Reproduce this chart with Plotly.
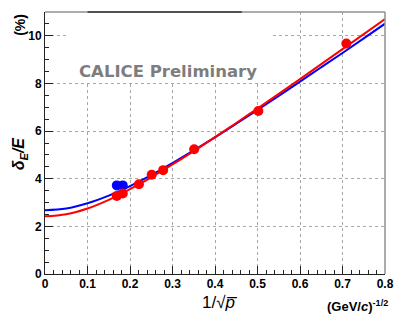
import plotly.graph_objects as go

# measured points (red = full set, blue = second set, only visible at low 1/sqrt(p))
red_x = [0.169, 0.183, 0.221, 0.251, 0.278, 0.351, 0.502, 0.709]
red_y = [3.28, 3.38, 3.77, 4.17, 4.36, 5.24, 6.84, 9.68]
blue_x = [0.169, 0.183]
blue_y = [3.72, 3.72]

# fit curves
fit_x = [0, 0.05, 0.1, 0.15, 0.2, 0.25, 0.3, 0.35, 0.4, 0.45, 0.5, 0.55, 0.6, 0.65, 0.7, 0.75, 0.8]
red_fit = [2.42, 2.51, 2.75, 3.11, 3.56, 4.06, 4.60, 5.16, 5.75, 6.34, 6.95, 7.56, 8.18, 8.81, 9.44, 10.07, 10.70]
blue_fit = [2.68, 2.75, 2.97, 3.29, 3.69, 4.15, 4.66, 5.19, 5.74, 6.31, 6.89, 7.48, 8.08, 8.68, 9.28, 9.89, 10.51]

x_ticks = [0, 0.1, 0.2, 0.3, 0.4, 0.5, 0.6, 0.7, 0.8]
x_ticklabels = ["0", "0.1", "0.2", "0.3", "0.4", "0.5", "0.6", "0.7", "0.8"]
y_ticks = [0, 2, 4, 6, 8, 10]
y_ticklabels = ["0", "2", "4", "6", "8", "10"]

RED = "#ff0000"
BLUE = "#0000ff"
FONT = "Liberation Sans"

fig = go.Figure()
fig.add_trace(go.Scatter(x=fit_x, y=blue_fit, mode="lines", line=dict(color=BLUE, width=2, shape="spline")))
fig.add_trace(go.Scatter(x=fit_x, y=red_fit, mode="lines", line=dict(color=RED, width=2, shape="spline")))
fig.add_trace(go.Scatter(x=blue_x, y=blue_y, mode="markers", marker=dict(color=BLUE, size=10)))
fig.add_trace(go.Scatter(x=red_x, y=red_y, mode="markers", marker=dict(color=RED, size=10)))

axis_common = dict(
    showline=True, linecolor="#222", linewidth=1,
    ticks="inside", ticklen=8, tickcolor="#222",
    showgrid=True, gridcolor="#a8a8a8", griddash="dot", gridwidth=1,
    zeroline=False, automargin=False,
    tickfont=dict(family=FONT, size=12, color="black", weight="bold"),
)
fig.update_xaxes(range=[0, 0.8], tickvals=x_ticks, ticktext=x_ticklabels, tickangle=0,
                 ticklabelstandoff=-1,
                 minor=dict(dtick=0.02, ticks="inside", ticklen=4, tickcolor="#222", showgrid=False),
                 **axis_common)
fig.update_yaxes(range=[0, 11], tickvals=y_ticks, ticktext=y_ticklabels,
                 minor=dict(dtick=0.5, ticks="inside", ticklen=4, tickcolor="#222", showgrid=False),
                 **axis_common)

# white pad behind the watermark text hides the grid there
fig.add_shape(type="rect", xref="x", yref="y", x0=0.05, x1=0.534, y0=8.1, y1=11,
              fillcolor="white", line_width=0, layer="between")
# frame: gray top/right
fig.add_shape(type="line", xref="paper", yref="paper", x0=0, x1=1, y0=1, y1=1,
              line=dict(color="#909090", width=1.5))
fig.add_shape(type="line", xref="paper", yref="paper", x0=1, x1=1, y0=0, y1=1,
              line=dict(color="#909090", width=1.5))
fig.add_shape(type="line", xref="x", yref="paper", x0=0.1, x1=0.463, y0=1, y1=1,
              line=dict(color="#333", width=1.5))

fig.add_annotation(x=0.29, y=8.5, xref="x", yref="y", text="<b>CALICE Preliminary</b>",
                   showarrow=False, font=dict(family="DejaVu Sans", size=16.5, color="#7d7d7d"))
fig.add_annotation(x=0.515, y=-0.065, xref="paper", yref="paper", yanchor="top", text="1/√<i>p̅</i>",
                   showarrow=False, font=dict(family=FONT, size=17, color="black"))
fig.add_annotation(x=1.015, y=-0.085, xref="paper", yref="paper", xanchor="right", yanchor="top",
                   text="<b>(GeV/<i>c</i>)<sup>-1/2</sup></b>",
                   showarrow=False, font=dict(family=FONT, size=13, color="black"))
fig.add_annotation(x=-0.074, y=0.46, xref="paper", yref="paper", textangle=-90,
                   xanchor="center", yanchor="middle",
                   text="<b><i>δ<sub>E</sub>/E</i></b>",
                   showarrow=False, font=dict(family=FONT, size=16, color="black"))
fig.add_annotation(x=-0.074, y=1.0, xref="paper", yref="paper", textangle=-90,
                   xanchor="center", yanchor="top",
                   text="<b>(%)</b>",
                   showarrow=False, font=dict(family=FONT, size=14, color="black"))

# page body has an 8px default margin, so the figure is sized to fit the window
fig.update_layout(
    width=407, height=320,
    margin=dict(l=37, r=30, t=4, b=54),
    paper_bgcolor="white", plot_bgcolor="white",
    showlegend=False,
)

fig.write_html("out.html")
